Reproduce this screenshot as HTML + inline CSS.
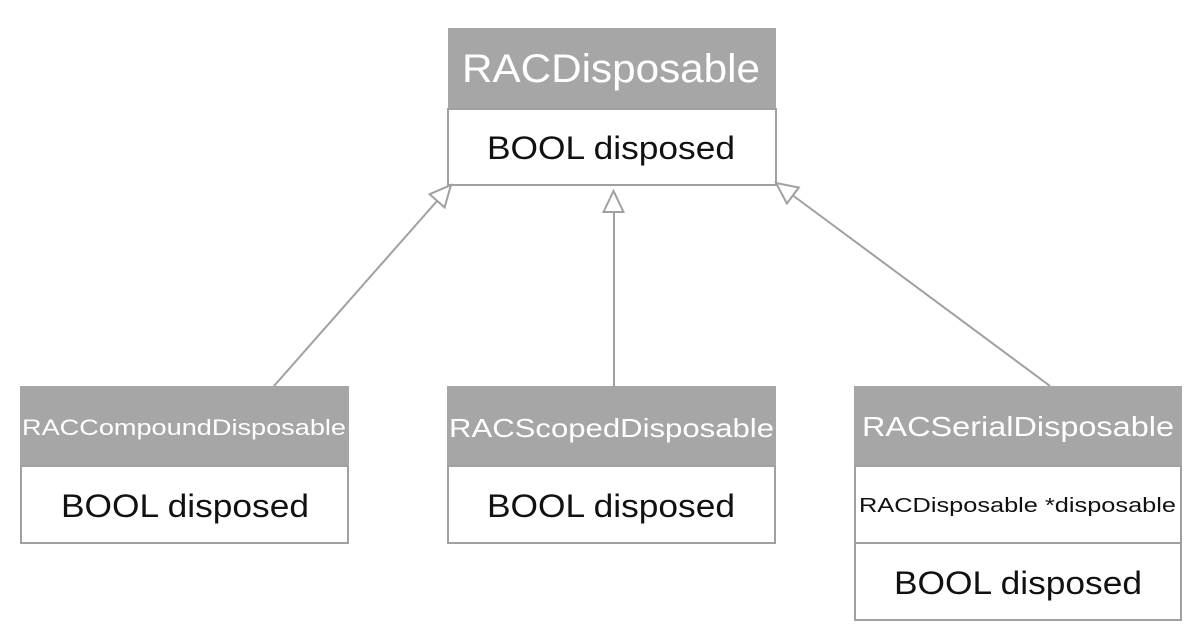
<!DOCTYPE html>
<html><head><style>html,body{margin:0;padding:0;background:#fff}svg{display:block}</style></head>
<body>
<svg width="1204" height="640" xmlns="http://www.w3.org/2000/svg" font-family="Liberation Sans, sans-serif">
<g stroke="#a0a0a0" stroke-width="2" fill="#fff">
<!-- top -->
<rect x="448" y="28" width="328" height="82" fill="#a6a6a6" stroke="none"/>
<rect x="448" y="109" width="328" height="76"/>
<!-- compound -->
<rect x="20" y="386" width="329" height="80" fill="#a6a6a6" stroke="none"/>
<rect x="21" y="466" width="327" height="77"/>
<!-- scoped -->
<rect x="447" y="386" width="329" height="80" fill="#a6a6a6" stroke="none"/>
<rect x="448" y="466" width="327" height="77"/>
<!-- serial -->
<rect x="854" y="386" width="328" height="80" fill="#a6a6a6" stroke="none"/>
<rect x="855" y="466" width="326" height="77"/>
<rect x="855" y="543" width="326" height="77"/>
<!-- connectors -->
<line x1="274" y1="386" x2="437" y2="201"/>
<polygon points="451,185 444.6,207.4 429.6,194.2"/>
<line x1="614" y1="386" x2="614" y2="212"/>
<polygon points="613.5,191 603.5,212 623.5,212"/>
<line x1="1050" y1="386" x2="793" y2="195.5"/>
<polygon points="776,183 798.8,187.5 786.9,203.5"/>
</g>
<g fill="#fff">
<text x="462" y="82" font-size="40" textLength="298" lengthAdjust="spacingAndGlyphs">RACDisposable</text>
<text x="22" y="435" font-size="22" textLength="324" lengthAdjust="spacingAndGlyphs">RACCompoundDisposable</text>
<text x="449" y="437" font-size="26" textLength="325" lengthAdjust="spacingAndGlyphs">RACScopedDisposable</text>
<text x="862" y="436" font-size="28" textLength="312" lengthAdjust="spacingAndGlyphs">RACSerialDisposable</text>
</g>
<g fill="#111">
<text x="487" y="159" font-size="32" textLength="248" lengthAdjust="spacingAndGlyphs">BOOL disposed</text>
<text x="61" y="517" font-size="32" textLength="248" lengthAdjust="spacingAndGlyphs">BOOL disposed</text>
<text x="487" y="517" font-size="32" textLength="248" lengthAdjust="spacingAndGlyphs">BOOL disposed</text>
<text x="859" y="512" font-size="20" textLength="317" lengthAdjust="spacingAndGlyphs">RACDisposable *disposable</text>
<text x="894" y="594" font-size="32" textLength="248" lengthAdjust="spacingAndGlyphs">BOOL disposed</text>
</g>
</svg>
</body></html>
